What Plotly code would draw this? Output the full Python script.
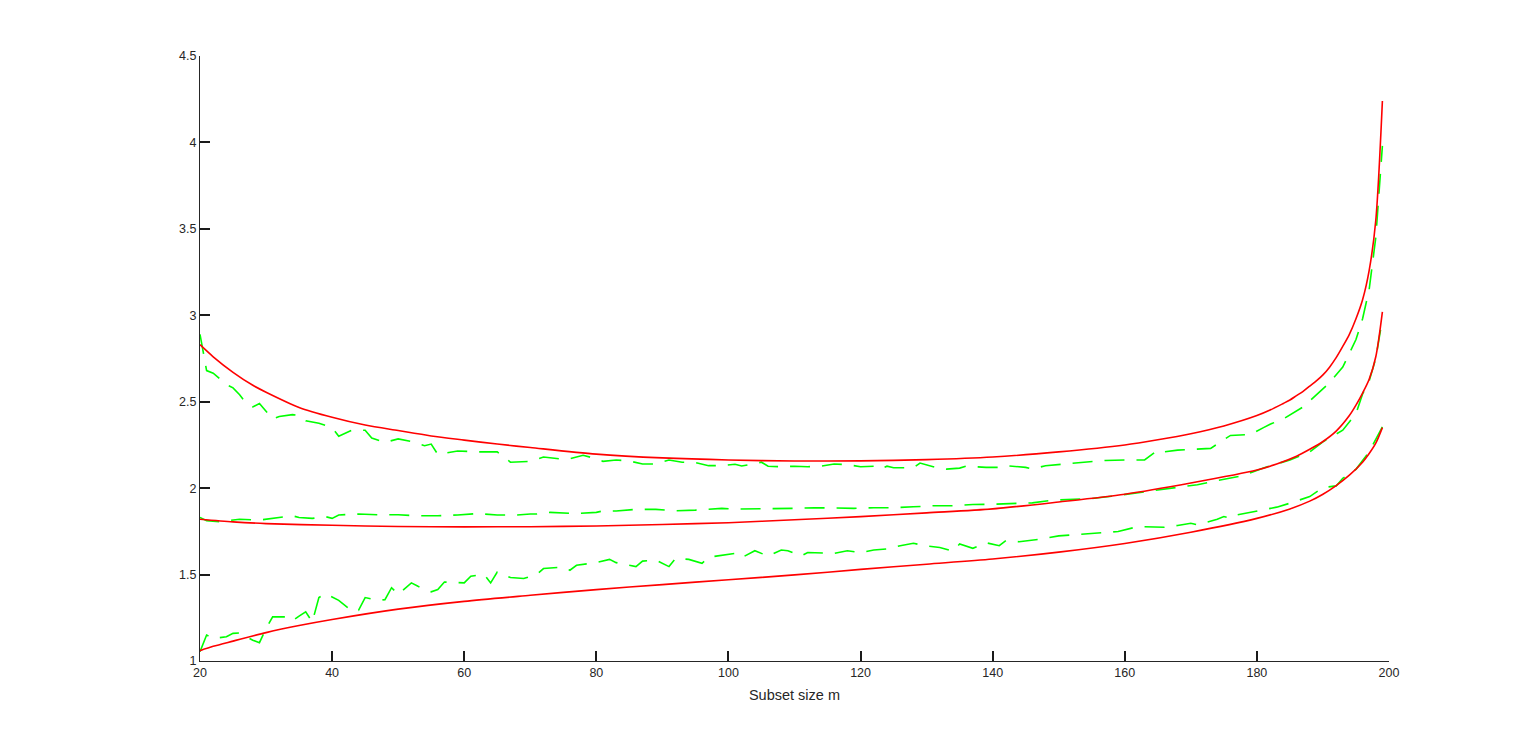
import plotly.graph_objects as go

# Simulated (green dashed) curves
m_upper_sim = [20, 21, 22, 24, 25, 26, 27, 28, 29, 31, 32, 34, 35, 36, 38, 40, 41, 43, 45, 46,
               48, 50, 52, 54, 55, 56, 59, 62, 65, 67, 70, 72, 75, 76, 78, 80, 81, 83, 85, 87,
               89, 91, 93, 95, 97, 99, 101, 102, 105, 106, 108, 110, 112, 114, 116, 118, 120, 122, 123, 124,
               125, 128, 129, 131, 133, 135, 136, 139, 141, 142, 145, 146, 147, 148, 151, 154, 157, 160, 163, 165,
               166, 168, 171, 173, 176, 179, 181, 182, 184, 187, 189, 191, 193, 194, 195, 196, 197, 198, 199]
upper_sim = [2.89, 2.68, 2.665, 2.60, 2.58, 2.54, 2.49, 2.47, 2.49, 2.40, 2.415, 2.425, 2.42, 2.39, 2.375, 2.35, 2.30, 2.335, 2.335, 2.29,
             2.265, 2.285, 2.27, 2.245, 2.255, 2.195, 2.215, 2.21, 2.21, 2.15, 2.155, 2.18, 2.167, 2.17, 2.19, 2.17, 2.155, 2.163, 2.157, 2.14,
             2.14, 2.163, 2.15, 2.148, 2.13, 2.13, 2.138, 2.128, 2.15, 2.127, 2.124, 2.127, 2.124, 2.127, 2.14, 2.136, 2.124, 2.127, 2.11, 2.127,
             2.118, 2.118, 2.145, 2.124, 2.11, 2.116, 2.127, 2.12, 2.12, 2.13, 2.12, 2.11, 2.12, 2.13, 2.14, 2.15, 2.16, 2.163, 2.163, 2.22,
             2.21, 2.22, 2.228, 2.23, 2.305, 2.31, 2.35, 2.37, 2.40, 2.47, 2.54, 2.61, 2.70, 2.78, 2.86, 2.98, 3.15, 3.45, 3.98]

m_middle_sim = [20, 21, 23, 26, 29, 32, 34, 35, 37, 39, 40, 41, 44, 47, 50, 53, 56, 59, 62, 65,
                68, 70, 71, 73, 77, 80, 81, 83, 86, 89, 92, 95, 98, 99, 101, 104, 107, 110, 113, 116,
                119, 122, 125, 128, 131, 134, 137, 140, 143, 146, 149, 152, 155, 158, 161, 165, 167, 171, 174, 178,
                181, 185, 188, 190, 193, 195, 196, 197, 198, 199]
middle_sim = [1.831, 1.812, 1.806, 1.82, 1.815, 1.83, 1.84, 1.83, 1.825, 1.835, 1.825, 1.845, 1.85, 1.846, 1.846, 1.84, 1.84, 1.845, 1.853, 1.845,
              1.845, 1.85, 1.85, 1.86, 1.853, 1.86, 1.868, 1.868, 1.877, 1.877, 1.869, 1.873, 1.879, 1.883, 1.879, 1.879, 1.883, 1.883, 1.887, 1.883,
              1.883, 1.887, 1.887, 1.892, 1.898, 1.898, 1.905, 1.907, 1.91, 1.915, 1.93, 1.934, 1.94, 1.953, 1.968, 1.988, 2.0, 2.02, 2.044, 2.073,
              2.117, 2.163, 2.21, 2.268, 2.335, 2.43, 2.545, 2.62, 2.75, 2.98]

m_lower_sim = [20, 21, 22, 23, 24, 25, 26, 28, 29, 30, 31, 33, 34, 35, 36, 37, 38, 39, 41, 43,
               44, 45, 47, 48, 49, 50, 52, 53, 55, 56, 57, 60, 61, 63, 64, 65, 67, 69, 71, 72,
               75, 76, 77, 80, 82, 83, 86, 87, 89, 91, 92, 94, 96, 97, 99, 101, 102, 104, 106, 108,
               109, 111, 112, 114, 116, 118, 120, 122, 124, 126, 128, 130, 132, 134, 135, 137, 139, 141, 142, 144,
               147, 150, 154, 156, 159, 162, 164, 166, 168, 170, 171, 174, 175, 176, 177, 179, 183, 185, 188, 190,
               192, 193, 195, 197, 199]
lower_sim = [1.054, 1.15, 1.13, 1.135, 1.14, 1.16, 1.162, 1.12, 1.106, 1.188, 1.255, 1.255, 1.232, 1.26, 1.284, 1.226, 1.367, 1.39, 1.351, 1.29,
             1.293, 1.367, 1.351, 1.355, 1.424, 1.386, 1.452, 1.432, 1.40, 1.413, 1.457, 1.452, 1.49, 1.502, 1.452, 1.515, 1.483, 1.477, 1.502, 1.535,
             1.544, 1.525, 1.554, 1.569, 1.588, 1.569, 1.546, 1.578, 1.584, 1.546, 1.594, 1.588, 1.565, 1.60, 1.613, 1.623, 1.598, 1.638, 1.607, 1.642,
             1.638, 1.607, 1.628, 1.627, 1.623, 1.638, 1.627, 1.642, 1.648, 1.667, 1.681, 1.665, 1.657, 1.636, 1.677, 1.652, 1.684, 1.667, 1.696, 1.69,
             1.704, 1.724, 1.736, 1.74, 1.749, 1.778, 1.778, 1.774, 1.784, 1.797, 1.788, 1.82, 1.836, 1.826, 1.845, 1.861, 1.89, 1.913, 1.951, 2.003,
             2.013, 2.057, 2.109, 2.21, 2.355]

# Theoretical (red solid) curves
m_upper_th = [20, 22, 25, 28, 30, 35, 40, 45, 50, 55, 60, 65, 70, 80, 90, 100, 110, 120, 130, 140,
              150, 160, 165, 170, 175, 180, 182, 184, 185, 186, 187, 188, 189, 190, 191, 192, 193, 194, 195, 196,
              197, 198, 199]
upper_th = [2.83, 2.76, 2.67, 2.595, 2.555, 2.467, 2.41, 2.365, 2.333, 2.302, 2.278, 2.255, 2.235, 2.197, 2.175, 2.163, 2.157, 2.158, 2.165, 2.18,
            2.21, 2.25, 2.28, 2.315, 2.36, 2.42, 2.452, 2.49, 2.51, 2.535, 2.56, 2.59, 2.62, 2.655, 2.70, 2.755, 2.82, 2.89, 2.98, 3.09,
            3.26, 3.55, 4.24]

m_middle_th = [20, 25, 30, 40, 50, 60, 70, 80, 90, 100, 110, 120, 130, 140, 150, 160, 170, 180, 183, 186,
               188, 190, 192, 194, 195, 196, 197, 198, 199]
middle_th = [1.82, 1.805, 1.795, 1.785, 1.778, 1.776, 1.777, 1.781, 1.79, 1.80, 1.817, 1.835, 1.857, 1.88, 1.92, 1.965, 2.03, 2.105, 2.14, 2.185,
             2.225, 2.27, 2.33, 2.42, 2.48, 2.55, 2.63, 2.76, 3.02]

m_lower_th = [20, 22, 25, 30, 35, 40, 50, 60, 70, 80, 90, 100, 110, 120, 130, 140, 150, 160, 170, 180,
              185, 188, 190, 192, 194, 196, 197, 198, 199]
lower_th = [1.06, 1.085, 1.115, 1.164, 1.205, 1.24, 1.30, 1.345, 1.38, 1.413, 1.442, 1.47, 1.498, 1.53, 1.56, 1.59, 1.63, 1.68, 1.745, 1.825,
            1.88, 1.925, 1.965, 2.015, 2.075, 2.15, 2.20, 2.26, 2.35]

x_ticks = [20, 40, 60, 80, 100, 120, 140, 160, 180, 200]
y_ticks = [1, 1.5, 2, 2.5, 3, 3.5, 4, 4.5]

fig = go.Figure()

for mx, vals in [(m_upper_sim, upper_sim), (m_middle_sim, middle_sim), (m_lower_sim, lower_sim)]:
    fig.add_trace(go.Scatter(x=mx, y=vals, mode='lines', showlegend=False,
                             line=dict(color='#00ff00', width=1.6, dash='20px,12px')))

for mx, vals in [(m_upper_th, upper_th), (m_middle_th, middle_th), (m_lower_th, lower_th)]:
    fig.add_trace(go.Scatter(x=mx, y=vals, mode='lines', showlegend=False,
                             line=dict(color='#ff0000', width=1.6, shape='spline', smoothing=0.8)))

axis_style = dict(showline=True, linecolor='#262626', linewidth=1.3, ticks='inside', ticklen=10,
                  tickcolor='#1a1a1a', tickwidth=1.5, showgrid=False, zeroline=False,
                  tickfont=dict(family='Liberation Sans, Arial', size=12.5, color='#262626'))

fig.update_layout(
    width=1536, height=744,
    margin=dict(l=192, r=155, t=48, b=91),
    paper_bgcolor='white', plot_bgcolor='white',
    xaxis=dict(range=[20, 200], tickvals=x_ticks,
               title=dict(text='Subset size m', font=dict(family='Liberation Sans, Arial', size=14.5, color='#262626'),
                          standoff=10),
               **axis_style),
    yaxis=dict(range=[1, 4.5], tickvals=y_ticks, **axis_style),
)

fig.write_html("out.html")
